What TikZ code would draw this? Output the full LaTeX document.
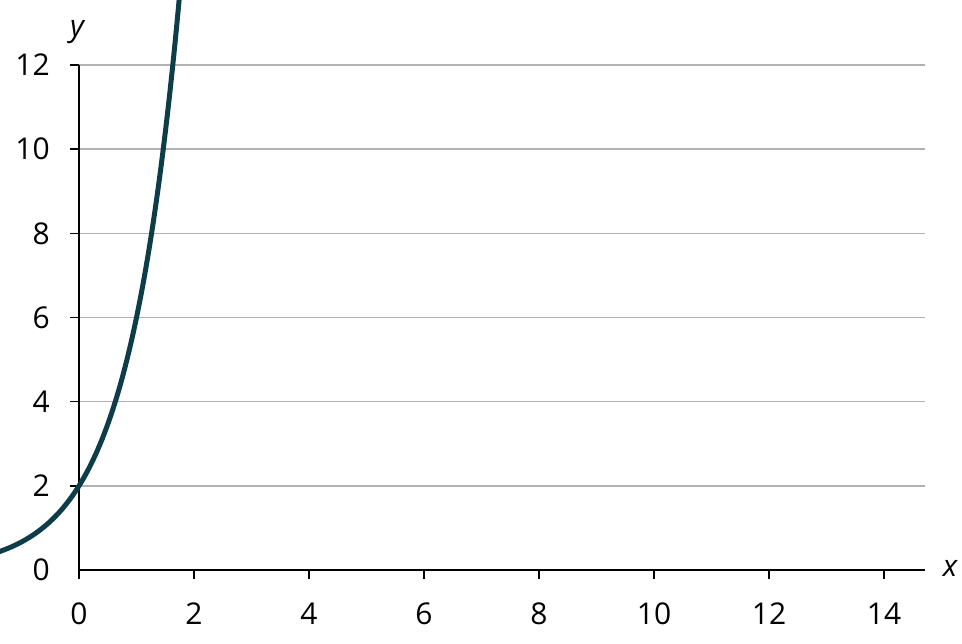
\documentclass[tikz,border=0pt]{standalone}
\usepackage{fontspec}
\setmainfont{Open Sans}
\definecolor{curve}{HTML}{0E3D4A}
\begin{document}
\begin{tikzpicture}[x=1pt,y=-1pt,
  grid/.style={draw=black!30,line width=1.5pt},
  axis/.style={draw=black,line width=1.5pt},
  lab/.style={font=\fontsize{30}{33}\selectfont,inner sep=0pt}]
\useasboundingbox (0,0) rectangle (962,644);
\foreach \v in {2,4,...,12}{
  \draw[grid] ({79},{570-42.08*\v}) -- (925,{570-42.08*\v});
  \node[lab,anchor=east] (yl\v) at (50,{570-42.08*\v}) {\v};
  \draw[axis] (70,{570-42.08*\v}) -- (79,{570-42.08*\v});
}
\node[lab,anchor=east] (yl0) at (50,570) {0};
\foreach \v in {0,2,...,14}{
  \draw[axis] ({79+57.5*\v},570) -- ({79+57.5*\v},579);
  \node[lab] (xl\v) at ({79+57.5*\v},614) {\v};
}
\draw[axis] (79,65) -- (79,570) -- (925,570);
\node[lab] (ylab) at (77,32) {\itshape y};
\node[lab] (xlab) at (950,568) {\itshape x};
\begin{scope}
\clip (0,0) rectangle (962,644);
\draw[curve,line width=5pt] plot[domain=-1.4:1.76,samples=120,smooth] ({79+57.5*\x},{570-84.16*pow(3,\x)});
\end{scope}
\end{tikzpicture}
\end{document}
